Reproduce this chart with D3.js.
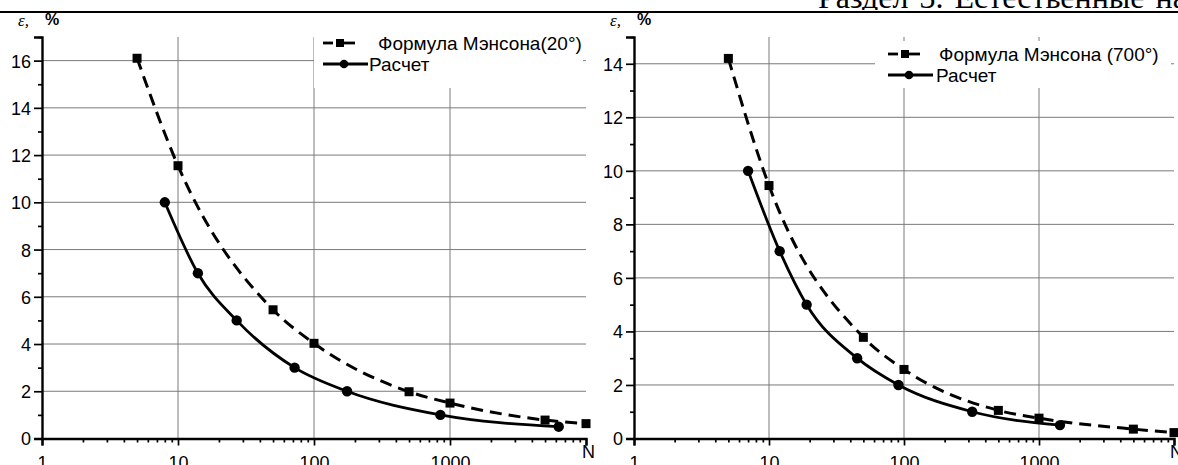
<!DOCTYPE html>
<html lang="ru">
<head>
<meta charset="UTF-8" />
<title>Формула Мэнсона и расчет</title>
<style>
  body { margin: 0; background: #fff; }
  svg { display: block; font-family: "Liberation Sans", Arial, sans-serif; }
</style>
</head>
<body>
<div id="chart"></div>
<script src="https://d3js.org/d3.v7.min.js"></script>
<script>
  // left panel, 20°
  const nLeftManson = [5, 10, 50, 100, 500, 1000, 5000, 10000];
  const epsLeftManson = [16.1, 11.55, 5.45, 4.03, 1.98, 1.5, 0.78, 0.63];
  const nLeftCalc = [8, 14, 27, 72, 175, 850, 6300];
  const epsLeftCalc = [10, 7, 5, 3, 2, 1, 0.5];

  // right panel, 700°
  const nRightManson = [5, 10, 50, 100, 500, 1000, 5000, 10000];
  const epsRightManson = [14.2, 9.45, 3.78, 2.58, 1.05, 0.76, 0.35, 0.22];
  const nRightCalc = [7, 12, 19, 45, 91, 320, 1430];
  const epsRightCalc = [10, 7, 5, 3, 2, 1, 0.5];

  const xTickLabels = [1, 10, 100, 1000];
  const legendLeft = ["Формула Мэнсона(20°)", "Расчет"];
  const legendRight = ["Формула Мэнсона (700°)", "Расчет"];

  const W = 1178, H = 465;
  const svg = d3.select("#chart").append("svg")
    .attr("width", W).attr("height", H);

  // page header (cut off at the top)
  svg.append("text")
    .attr("x", 818).attr("y", 8)
    .attr("font-family", "'Liberation Serif', 'Times New Roman', serif")
    .attr("font-size", 32).attr("word-spacing", 3)
    .text("Раздел 3. Естественные науки");
  svg.append("rect").attr("x", 0).attr("y", 10).attr("width", W).attr("height", 5).attr("fill", "#fff");
  svg.append("line")
    .attr("x1", 0).attr("x2", W).attr("y1", 12).attr("y2", 12)
    .attr("stroke", "#000").attr("stroke-width", 1.8);

  function drawPanel(p) {
    const x = d3.scaleLog().domain([1, 10000]).range([p.left, p.right]);
    const y = d3.scaleLinear().domain([0, p.yMax]).range([438.5, 37]);
    const g = svg.append("g");

    // grid
    const yGrid = d3.range(2, p.yMax + 0.1, 2);
    g.append("g").selectAll("line").data(yGrid).join("line")
      .attr("x1", p.left).attr("x2", p.right)
      .attr("y1", d => y(d)).attr("y2", d => y(d))
      .attr("stroke", "#7a7a7a").attr("stroke-width", 1);
    g.append("g").selectAll("line").data([10, 100, 1000]).join("line")
      .attr("x1", d => x(d)).attr("x2", d => x(d))
      .attr("y1", 37).attr("y2", 438.5)
      .attr("stroke", "#7a7a7a").attr("stroke-width", 1);

    // legend background hides the grid
    g.append("rect")
      .attr("x", p.legX - p.pad).attr("y", p.legY - 13)
      .attr("width", p.right - p.legX + p.pad - 3).attr("height", 88 - (p.legY - 13))
      .attr("fill", "#fff");

    // y axis
    const yAxis = g.append("g").attr("transform", `translate(${p.left},0)`)
      .call(d3.axisLeft(y).tickValues(d3.range(0, p.yMax + 0.1, 2))
        .tickSize(8).tickPadding(3).tickFormat(d3.format("d")));
    g.append("g").attr("transform", `translate(${p.left},0)`)
      .call(d3.axisLeft(y).tickValues(d3.range(1, p.yMax + 0.1, 2))
        .tickSize(4).tickFormat(""))
      .select(".domain").remove();

    // x axis
    const minor = [];
    [1, 10, 100, 1000].forEach(d => { for (let k = 2; k <= 9; k++) minor.push(d * k); });
    const xAxis = g.append("g").attr("transform", "translate(0,438.5)")
      .call(d3.axisBottom(x).tickValues(xTickLabels.concat([10000]))
        .tickSize(7).tickPadding(7)
        .tickFormat(d => d === 10000 ? "" : d3.format("d")(d)));
    g.append("g").attr("transform", "translate(0,438.5)")
      .call(d3.axisBottom(x).tickValues(minor).tickSize(4).tickFormat(""))
      .select(".domain").remove();

    g.selectAll(".domain").attr("stroke-width", 2.4);
    g.selectAll(".tick line").attr("stroke-width", 1.7);
    g.selectAll(".tick text").attr("font-size", 18)
      .attr("font-family", "'Liberation Sans', Arial, sans-serif").attr("fill", "#000");
    xAxis.selectAll(".tick text").attr("dy", "0.9em");
    yAxis.selectAll(".tick text").attr("dy", "0.36em");

    // axis titles
    g.append("text").attr("x", p.right - 4).attr("y", 458)
      .attr("font-size", 18).text("N");
    g.append("text").attr("x", p.left - 24).attr("y", 26)
      .attr("font-family", "'Liberation Serif', serif")
      .attr("font-style", "italic").attr("font-size", 17).text("ε,");
    g.append("text").attr("x", p.left + 3).attr("y", 25)
      .attr("font-weight", "bold").attr("font-size", 16).text("%");

    // curves
    const line = d3.line().x(d => x(d[0])).y(d => y(d[1])).curve(d3.curveMonotoneX);
    const manson = p.nM.map((n, i) => [n, p.eM[i]]);
    const calc = p.nC.map((n, i) => [n, p.eC[i]]);

    g.append("path").attr("d", line(manson))
      .attr("fill", "none").attr("stroke", "#000")
      .attr("stroke-width", 3).attr("stroke-dasharray", "12,7");
    g.append("path").attr("d", line(calc))
      .attr("fill", "none").attr("stroke", "#000").attr("stroke-width", 2.8);

    g.append("g").selectAll("rect").data(manson).join("rect")
      .attr("x", d => x(d[0]) - 4.5).attr("y", d => y(d[1]) - 4.5)
      .attr("width", 9).attr("height", 9).attr("fill", "#000");
    g.append("g").selectAll("circle").data(calc).join("circle")
      .attr("cx", d => x(d[0])).attr("cy", d => y(d[1]))
      .attr("r", 5.2).attr("fill", "#000");

    // legend
    const lx = p.legX, r1 = p.legY, r2 = p.legY + 21;
    g.append("line").attr("x1", lx).attr("x2", lx + 10).attr("y1", r1).attr("y2", r1)
      .attr("stroke", "#000").attr("stroke-width", 2.8);
    g.append("rect").attr("x", lx + 13).attr("y", r1 - 4).attr("width", 8).attr("height", 8);
    g.append("line").attr("x1", lx + 21).attr("x2", lx + 32).attr("y1", r1).attr("y2", r1)
      .attr("stroke", "#000").attr("stroke-width", 2.8);
    g.append("text").attr("x", lx + p.t1).attr("y", r1 + 7)
      .attr("font-size", 19).text(p.legend[0]);
    g.append("line").attr("x1", lx).attr("x2", lx + 45).attr("y1", r2).attr("y2", r2)
      .attr("stroke", "#000").attr("stroke-width", 2.8);
    g.append("circle").attr("cx", lx + 21).attr("cy", r2).attr("r", 4.3);
    g.append("text").attr("x", lx + p.t2).attr("y", r2 + 7)
      .attr("font-size", 19).text(p.legend[1]);
  }

  drawPanel({
    left: 42, right: 586, yMax: 17, legX: 323, legY: 43, t1: 55, t2: 46, pad: 9,
    nM: nLeftManson, eM: epsLeftManson, nC: nLeftCalc, eC: epsLeftCalc,
    legend: legendLeft
  });
  drawPanel({
    left: 634, right: 1174, yMax: 15, legX: 888, legY: 54, t1: 51, t2: 48, pad: 13,
    nM: nRightManson, eM: epsRightManson, nC: nRightCalc, eC: epsRightCalc,
    legend: legendRight
  });
</script>
</body>
</html>
